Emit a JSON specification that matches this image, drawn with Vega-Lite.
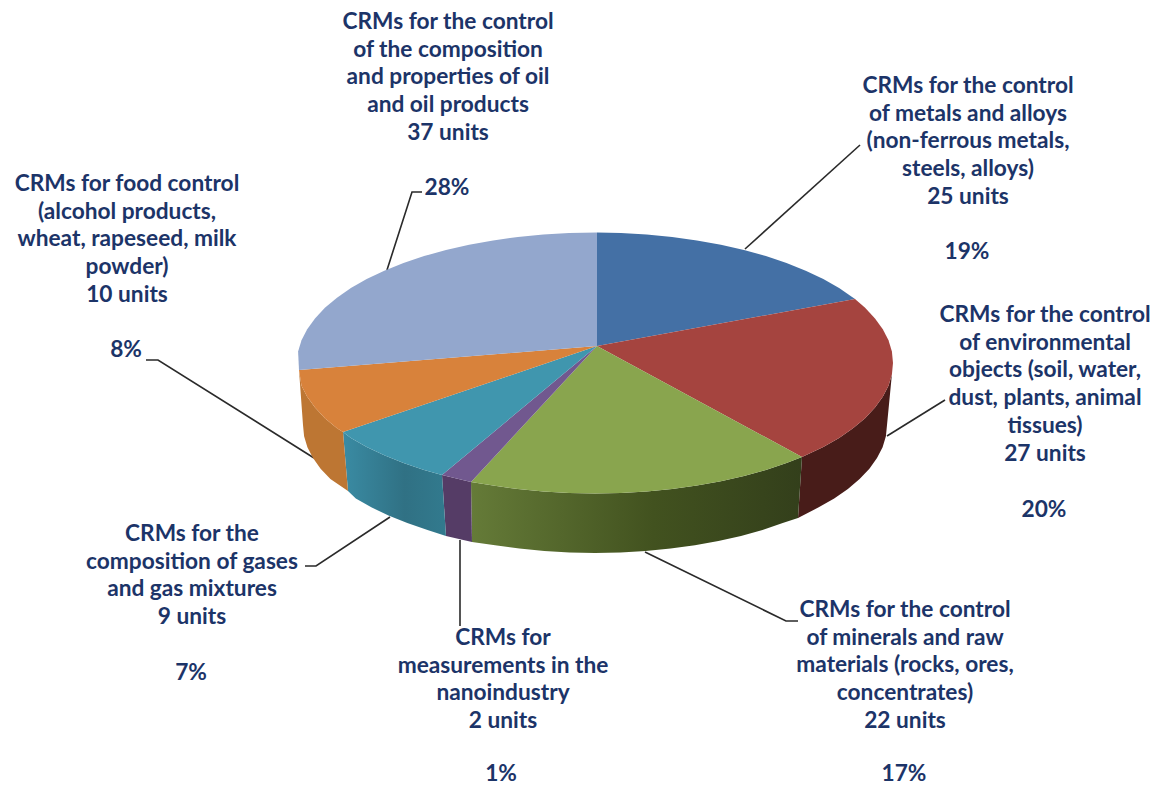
{"$schema":"https://vega.github.io/schema/vega-lite/v6.json","width":1154,"height":785,"padding":0,"autosize":"none","background":"white","view":{"stroke":null},"projection":{"type":"identity","scale":1,"translate":[0,0]},
"datasets":{
"walls":[
{"type":"Feature","properties":{"category":"environmental","part":"wall"},"geometry":{"type":"Polygon","coordinates":[[[893,363],[891.9,374.4],[888.5,385.7],[882.8,396.8],[875,407.6],[865.1,418.2],[853,428.3],[839.1,437.9],[823.3,446.9],[802,457],[798,518],[818.7,507.3],[834.2,498.4],[847.9,489],[859.6,479.1],[869.4,468.8],[877,458.1],[882.6,447.2],[885.9,436.2],[887,425],[893,363]]]}},
{"type":"Feature","properties":{"category":"minerals","part":"wall"},"geometry":{"type":"Polygon","coordinates":[[[802,457],[786.5,463],[765.9,469.9],[744,476],[720.9,481.3],[696.9,485.6],[672.1,489.1],[646.7,491.5],[621,493],[595,493.5],[569,493],[543.3,491.5],[517.9,489.1],[493.1,485.6],[471,482],[472,542],[495.1,545.3],[519.4,548.6],[544.3,551],[569.6,552.5],[595,553],[620.4,552.5],[645.7,551],[670.6,548.6],[694.9,545.3],[718.4,541],[741,535.9],[762.5,529.9],[782.7,523.1],[798,518],[802,457]]]}},
{"type":"Feature","properties":{"category":"nano","part":"wall"},"geometry":{"type":"Polygon","coordinates":[[[471,482],[442,475],[446,536],[472,542],[471,482]]]}},
{"type":"Feature","properties":{"category":"gases","part":"wall"},"geometry":{"type":"Polygon","coordinates":[[[442,475],[424.1,469.9],[403.5,463],[384.3,455.3],[366.7,446.9],[350.9,437.9],[343,432],[348,491],[355.8,498.4],[371.3,507.3],[388.5,515.5],[407.3,523.1],[427.5,529.9],[446,536],[442,475]]]}},
{"type":"Feature","properties":{"category":"food","part":"wall"},"geometry":{"type":"Polygon","coordinates":[[[343,432],[337,428.3],[324.9,418.2],[315,407.6],[307.2,396.8],[301.5,385.7],[299,370],[303,425],[304.1,436.2],[307.4,447.2],[313,458.1],[320.6,468.8],[330.4,479.1],[348,491],[343,432]]]}}
],
"tops":[
{"type":"Feature","properties":{"category":"metals","units":25,"share":19},"geometry":{"type":"Polygon","coordinates":[[[597,346],[597,232.5],[621,233],[646.7,234.5],[672.1,236.9],[696.9,240.4],[720.9,244.7],[744,250],[765.9,256.1],[786.5,263],[805.7,270.7],[823.3,279.1],[839.1,288.1],[855,299],[597,346]]]}},
{"type":"Feature","properties":{"category":"environmental","units":27,"share":20},"geometry":{"type":"Polygon","coordinates":[[[597,346],[855,299],[865.1,307.8],[875,318.4],[882.8,329.2],[888.5,340.3],[891.9,351.6],[893,363],[891.9,374.4],[888.5,385.7],[882.8,396.8],[875,407.6],[865.1,418.2],[853,428.3],[839.1,437.9],[823.3,446.9],[802,457],[597,346]]]}},
{"type":"Feature","properties":{"category":"minerals","units":22,"share":17},"geometry":{"type":"Polygon","coordinates":[[[597,346],[802,457],[786.5,463],[765.9,469.9],[744,476],[720.9,481.3],[696.9,485.6],[672.1,489.1],[646.7,491.5],[621,493],[595,493.5],[569,493],[543.3,491.5],[517.9,489.1],[493.1,485.6],[471,482],[597,346]]]}},
{"type":"Feature","properties":{"category":"nano","units":2,"share":1},"geometry":{"type":"Polygon","coordinates":[[[597,346],[471,482],[442,475],[597,346]]]}},
{"type":"Feature","properties":{"category":"gases","units":9,"share":7},"geometry":{"type":"Polygon","coordinates":[[[597,346],[442,475],[424.1,469.9],[403.5,463],[384.3,455.3],[366.7,446.9],[350.9,437.9],[343,432],[597,346]]]}},
{"type":"Feature","properties":{"category":"food","units":10,"share":8},"geometry":{"type":"Polygon","coordinates":[[[597,346],[343,432],[337,428.3],[324.9,418.2],[315,407.6],[307.2,396.8],[301.5,385.7],[299,370],[597,346]]]}},
{"type":"Feature","properties":{"category":"oil","units":37,"share":28},"geometry":{"type":"Polygon","coordinates":[[[597,346],[299,370],[298.1,351.6],[301.5,340.3],[307.2,329.2],[315,318.4],[324.9,307.8],[337,297.7],[350.9,288.1],[366.7,279.1],[384.3,270.7],[403.5,263],[424.1,256.1],[446,250],[469.1,244.7],[493.1,240.4],[517.9,236.9],[543.3,234.5],[569,233],[597,232.5],[597,346]]]}}
],
"leaders":[
{"type":"Feature","properties":{"category":"metals"},"geometry":{"type":"LineString","coordinates":[[745,249],[860,145]]}},
{"type":"Feature","properties":{"category":"environmental"},"geometry":{"type":"LineString","coordinates":[[887,436],[945,400]]}},
{"type":"Feature","properties":{"category":"minerals"},"geometry":{"type":"LineString","coordinates":[[645,552],[786,621],[798,621]]}},
{"type":"Feature","properties":{"category":"nano"},"geometry":{"type":"LineString","coordinates":[[460,540],[460,626]]}},
{"type":"Feature","properties":{"category":"gases"},"geometry":{"type":"LineString","coordinates":[[390,517],[316,566],[305,566]]}},
{"type":"Feature","properties":{"category":"food"},"geometry":{"type":"LineString","coordinates":[[314,458],[158,360],[146,360]]}},
{"type":"Feature","properties":{"category":"oil"},"geometry":{"type":"LineString","coordinates":[[387,270],[412,192],[422,192]]}}
],
"labels":[
{"label":"CRMs for the control\nof the composition\nand properties of oil\nand oil products\n37 units","px":448,"py":22},
{"label":"CRMs for food control\n(alcohol products,\nwheat, rapeseed, milk\npowder)\n10 units","px":127,"py":184},
{"label":"CRMs for the control\nof metals and alloys\n(non-ferrous metals,\nsteels, alloys)\n25 units","px":968,"py":86},
{"label":"CRMs for the control\nof environmental\nobjects (soil, water,\ndust, plants, animal\ntissues)\n27 units","px":1045,"py":315},
{"label":"CRMs for the control\nof minerals and raw\nmaterials (rocks, ores,\nconcentrates)\n22 units","px":905,"py":610},
{"label":"CRMs for\nmeasurements in the\nnanoindustry\n2 units","px":503,"py":638},
{"label":"CRMs for the\ncomposition of gases\nand gas mixtures\n9 units","px":192,"py":534},
{"label":"28%","px":447,"py":188},
{"label":"8%","px":126,"py":350},
{"label":"19%","px":967,"py":252},
{"label":"20%","px":1044,"py":510},
{"label":"17%","px":904,"py":774},
{"label":"1%","px":501,"py":774},
{"label":"7%","px":191,"py":673}
]},
"layer":[
{"data":{"name":"leaders"},"mark":{"type":"geoshape","filled":false,"stroke":"#2a2a2a","strokeWidth":1.6}},
{"data":{"name":"walls"},"transform":[{"filter":"datum.properties.category==='environmental'"}],"mark":{"type":"geoshape","fill":"#481c19"}},
{"data":{"name":"walls"},"transform":[{"filter":"datum.properties.category==='minerals'"}],"mark":{"type":"geoshape","fill":{"gradient":"linear","x1":0,"y1":0,"x2":1,"y2":0,"stops":[{"offset":0,"color":"#657b38"},{"offset":0.55,"color":"#42521f"},{"offset":1,"color":"#333f1b"}]}}},
{"data":{"name":"walls"},"transform":[{"filter":"datum.properties.category==='nano'"}],"mark":{"type":"geoshape","fill":"#553c66"}},
{"data":{"name":"walls"},"transform":[{"filter":"datum.properties.category==='gases'"}],"mark":{"type":"geoshape","fill":{"gradient":"linear","x1":0,"y1":0,"x2":1,"y2":0,"stops":[{"offset":0,"color":"#3a8ba3"},{"offset":0.6,"color":"#307184"},{"offset":1,"color":"#327a8e"}]}}},
{"data":{"name":"walls"},"transform":[{"filter":"datum.properties.category==='food'"}],"mark":{"type":"geoshape","fill":"#bd7633"}},
{"data":{"name":"tops"},"mark":{"type":"geoshape"},"encoding":{"color":{"field":"properties.category","type":"nominal","legend":null,"scale":{"domain":["metals","environmental","minerals","nano","gases","food","oil"],"range":["#4470a5","#a5443f","#89a54e","#71588f","#4096ae","#d8823b","#93a7cd"]}}}},
{"data":{"name":"labels"},"mark":{"type":"text","font":"Lato","fontWeight":"bold","fontSize":22.7,"color":"#1c3468","align":"center","baseline":"middle","lineBreak":"\n","lineHeight":27.7},"encoding":{"longitude":{"field":"px","type":"quantitative"},"latitude":{"field":"py","type":"quantitative"},"text":{"field":"label"}}}
]}
